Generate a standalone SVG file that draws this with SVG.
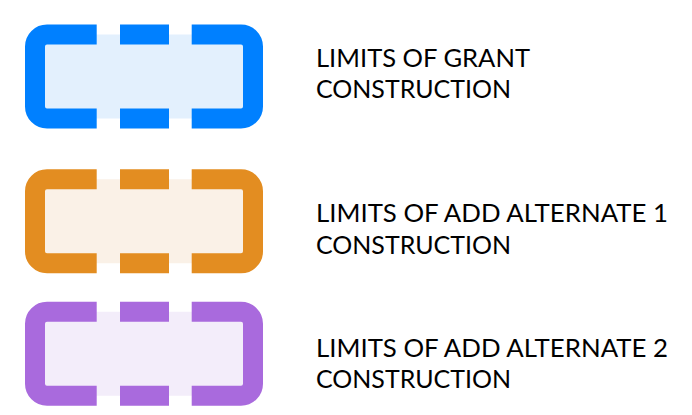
<svg xmlns="http://www.w3.org/2000/svg" width="692" height="415" viewBox="0 0 692 415">
<style>
.f{stroke:none}
.s{fill:none;stroke-width:20;stroke-linecap:butt;stroke-linejoin:round}
.t{font-family:Lato,"Open Sans","Liberation Sans",sans-serif;font-size:25.8px;fill:#000}
</style>
<defs>
<rect id="bg" x="0" y="0" width="218" height="84" rx="12"/>
<path id="brk" d="M61.7,0 H12 A12,12 0 0 0 0,12 V72 A12,12 0 0 0 12,84 H61.7 M85,0 H134 M85,84 H134 M156.7,0 H206 A12,12 0 0 1 218,12 V72 A12,12 0 0 1 206,84 H156.7"/>
</defs>
<g id="grant" transform="translate(35,34.5)">
<use href="#bg" class="f" fill="#E3F0FD"/>
<use href="#brk" class="s" stroke="#0080FF"/>
</g>
<g id="grant-label">
<text class="t" x="316" y="67.3" textLength="214" lengthAdjust="spacingAndGlyphs">LIMITS OF GRANT</text>
<text class="t" x="316" y="98.3" textLength="195" lengthAdjust="spacingAndGlyphs">CONSTRUCTION</text>
</g>
<g id="alt1" transform="translate(35,179.3)">
<use href="#bg" class="f" fill="#FAF1E7"/>
<use href="#brk" class="s" stroke="#E38D21"/>
</g>
<g id="alt1-label">
<text class="t" x="316" y="222.3" textLength="352" lengthAdjust="spacingAndGlyphs">LIMITS OF ADD ALTERNATE 1</text>
<text class="t" x="316" y="254" textLength="195" lengthAdjust="spacingAndGlyphs">CONSTRUCTION</text>
</g>
<g id="alt2" transform="translate(35,311.7)">
<use href="#bg" class="f" fill="#F3EDFA"/>
<use href="#brk" class="s" stroke="#A96ADD"/>
</g>
<g id="alt2-label">
<text class="t" x="316" y="357.3" textLength="352" lengthAdjust="spacingAndGlyphs">LIMITS OF ADD ALTERNATE 2</text>
<text class="t" x="316" y="388.3" textLength="195" lengthAdjust="spacingAndGlyphs">CONSTRUCTION</text>
</g>
<g id="connectors"/>
</svg>
